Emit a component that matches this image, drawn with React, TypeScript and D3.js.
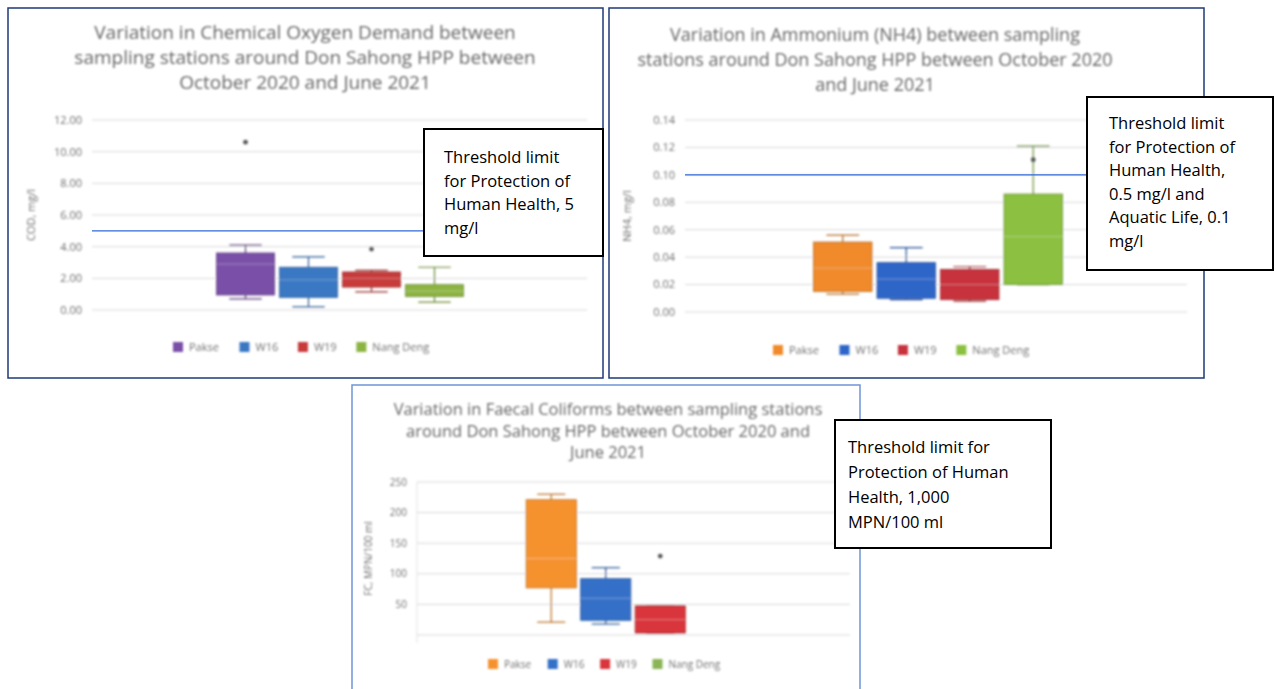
import React from "react";
import * as d3 from "d3";

// Sampling stations shown in every panel
const stations = ["Pakse", "W16", "W19", "Nang Deng"];

// Chemical Oxygen Demand (mg/l) box statistics per station
const codLow = [0.7, 0.2, 1.15, 0.5];
const codQ1 = [0.95, 0.8, 1.45, 0.85];
const codMedian = [2.9, 1.9, 2.0, 1.2];
const codQ3 = [3.6, 2.7, 2.4, 1.6];
const codHigh = [4.1, 3.35, 2.5, 2.7];
const codPoints = [[10.6], [], [3.85], []];
const codTicks = [0, 2, 4, 6, 8, 10, 12];
const codThreshold = 5;

// Ammonium NH4 (mg/l) box statistics per station
const nh4Low = [0.013, 0.009, 0.008, 0.02];
const nh4Q1 = [0.015, 0.01, 0.009, 0.02];
const nh4Median = [0.032, 0.024, 0.02, 0.055];
const nh4Q3 = [0.051, 0.036, 0.031, 0.086];
const nh4High = [0.056, 0.047, 0.033, 0.121];
const nh4Points = [[], [], [], [0.111]];
const nh4Ticks = [0, 0.02, 0.04, 0.06, 0.08, 0.1, 0.12, 0.14];
const nh4Threshold = 0.1;

// Faecal coliforms (MPN/100 ml) box statistics per station (no Nang Deng samples)
const fcLow = [21, 18, 3];
const fcQ1 = [77, 24, 3];
const fcMedian = [125, 60, 25];
const fcQ3 = [221, 92, 48];
const fcHigh = [230, 110, 48];
const fcPoints = [[], [], [129]];
const fcTicks = [0, 50, 100, 150, 200, 250];

const FONT = "'Open Sans', 'Noto Sans', sans-serif";

type Cfg = {
  frame: [number, number, number, number];
  frameColor: string;
  titleLines: string[];
  titleX: number;
  titleY: number;
  titleSize: number;
  titleGap: number;
  plotX: [number, number];
  plotY: [number, number];
  domain: [number, number];
  ticks: number[];
  showZeroLabel: boolean;
  valueAxisLine: boolean;
  fmt: (v: number) => string;
  tickSize: number;
  axisTitle: string;
  axisTitleX: number;
  groupRange: [number, number];
  colors: string[];
  low: number[];
  q1: number[];
  median: number[];
  q3: number[];
  high: number[];
  points: number[][];
  threshold?: number;
  thresholdEnd?: number;
  legendX: number;
  legendY: number;
  legendSize: number;
  legendSq: number;
  legendGap: number;
};

function textWidth(s: string, size: number) {
  let w = 0;
  for (const ch of s) {
    if (ch === "W" || ch === "M") w += 0.9;
    else if (ch === " ") w += 0.27;
    else if (/[0-9]/.test(ch)) w += 0.57;
    else if (/[A-Z]/.test(ch)) w += 0.65;
    else w += 0.53;
  }
  return w * size;
}

function BoxChart({ c }: { c: Cfg }) {
  const y = d3.scaleLinear().domain(c.domain).range([c.plotY[0], c.plotY[1]]);
  const x = d3
    .scaleBand<string>()
    .domain(stations)
    .range(c.groupRange)
    .paddingInner(0.08)
    .paddingOuter(0.04);
  const bw = x.bandwidth();
  const cap = bw * 0.28;

  let lx = c.legendX;
  const legendItems = stations.map((s, i) => {
    const item = { s, x: lx, color: c.colors[i] };
    lx += c.legendSq + 6 + textWidth(s, c.legendSize) + c.legendGap;
    return item;
  });

  const [fx, fy, fw, fh] = c.frame;
  return (
    <g>
      <rect x={fx} y={fy} width={fw} height={fh} fill="#fff" stroke={c.frameColor} strokeWidth={1.5} />
      <g filter="url(#soft)">
        {c.titleLines.map((t, i) => (
          <text
            key={i}
            x={c.titleX}
            y={c.titleY + i * c.titleGap}
            textAnchor="middle"
            fontFamily={FONT}
            fontSize={c.titleSize}
            fill="#666"
          >
            {t}
          </text>
        ))}
        {c.valueAxisLine && (
          <line x1={c.plotX[0]} x2={c.plotX[0]} y1={c.plotY[1]} y2={c.plotY[0] + 8} stroke="#e3e3e3" strokeWidth={1} />
        )}
        {c.ticks.map((t) => (
          <g key={t}>
            <line x1={c.plotX[0]} x2={c.plotX[1]} y1={y(t)} y2={y(t)} stroke="#d9d9d9" strokeWidth={1} />
            {(t !== 0 || c.showZeroLabel) && (
              <text
                x={c.plotX[0] - 10}
                y={y(t)}
                dy="0.35em"
                textAnchor="end"
                fontFamily={FONT}
                fontSize={c.tickSize}
                fill="#707070"
              >
                {c.fmt(t)}
              </text>
            )}
          </g>
        ))}
        <text
          transform={`translate(${c.axisTitleX},${(c.plotY[0] + c.plotY[1]) / 2}) rotate(-90)`}
          textAnchor="middle"
          dy="0.35em"
          fontFamily={FONT}
          fontSize={c.tickSize}
          fill="#707070"
        >
          {c.axisTitle}
        </text>
        {c.q1.map((_, i) => {
          const s = stations[i];
          const x0 = x(s)!;
          const cx = x0 + bw / 2;
          const col = c.colors[i];
          const dark = d3.color(col)!.darker(0.8).toString();
          return (
            <g key={s}>
              <line x1={cx} x2={cx} y1={y(c.q3[i])} y2={y(c.high[i])} stroke={dark} strokeWidth={1.2} />
              <line x1={cx} x2={cx} y1={y(c.q1[i])} y2={y(c.low[i])} stroke={dark} strokeWidth={1.2} />
              <line x1={cx - cap} x2={cx + cap} y1={y(c.high[i])} y2={y(c.high[i])} stroke={dark} strokeWidth={1.2} />
              <line x1={cx - cap} x2={cx + cap} y1={y(c.low[i])} y2={y(c.low[i])} stroke={dark} strokeWidth={1.2} />
              <rect
                x={x0}
                y={y(c.q3[i])}
                width={bw}
                height={Math.max(1, y(c.q1[i]) - y(c.q3[i]))}
                fill={col}
                stroke={dark}
                strokeWidth={0.8}
              />
              <line
                x1={x0}
                x2={x0 + bw}
                y1={y(c.median[i])}
                y2={y(c.median[i])}
                stroke="rgba(255,255,255,0.3)"
                strokeWidth={1}
              />
              {c.points[i].map((p, k) => (
                <circle key={k} cx={cx} cy={y(p)} r={2.4} fill="#555" />
              ))}
            </g>
          );
        })}
        {legendItems.map((it) => (
          <g key={it.s}>
            <rect
              x={it.x}
              y={c.legendY - c.legendSq / 2}
              width={c.legendSq}
              height={c.legendSq}
              fill={it.color}
            />
            <text
              x={it.x + c.legendSq + 6}
              y={c.legendY}
              dy="0.35em"
              fontFamily={FONT}
              fontSize={c.legendSize}
              fill="#707070"
            >
              {it.s}
            </text>
          </g>
        ))}
      </g>
      {c.threshold !== undefined && (
        <line
          x1={c.plotX[0]}
          x2={c.thresholdEnd}
          y1={y(c.threshold)}
          y2={y(c.threshold)}
          stroke="#2f68d8"
          strokeWidth={1.2}
        />
      )}
    </g>
  );
}

function Note({ x, y, w, h, lines, top, gap, pad }: { x: number; y: number; w: number; h: number; lines: string[]; top: number; gap: number; pad: number }) {
  return (
    <g>
      <rect x={x} y={y} width={w} height={h} fill="#fff" stroke="#000" strokeWidth={2} />
      {lines.map((l, i) => (
        <text
          key={i}
          x={x + pad}
          y={y + top + i * gap}
          fontFamily="'Open Sans', sans-serif"
          fontSize={16.5}
          fill="#000"
        >
          {l}
        </text>
      ))}
    </g>
  );
}

const codCfg: Cfg = {
  frame: [8, 8, 595, 370],
  frameColor: "#1f3a7a",
  titleLines: [
    "Variation in Chemical Oxygen Demand between",
    "sampling stations around Don Sahong HPP between",
    "October 2020 and June 2021",
  ],
  titleX: 305,
  titleY: 39,
  titleSize: 19,
  titleGap: 25,
  plotX: [92, 587],
  plotY: [310, 120],
  domain: [0, 12],
  ticks: codTicks,
  showZeroLabel: true,
  valueAxisLine: false,
  fmt: d3.format(".2f"),
  tickSize: 11,
  axisTitle: "COD, mg/l",
  axisTitleX: 31,
  groupRange: [214, 466],
  colors: ["#7a4fa8", "#3a78c4", "#c83a3a", "#8cb443"],
  low: codLow,
  q1: codQ1,
  median: codMedian,
  q3: codQ3,
  high: codHigh,
  points: codPoints,
  threshold: codThreshold,
  thresholdEnd: 424,
  legendX: 173,
  legendY: 347,
  legendSize: 11,
  legendSq: 10,
  legendGap: 20,
};

const nh4Cfg: Cfg = {
  frame: [609, 8, 595, 370],
  frameColor: "#1f3a7a",
  titleLines: [
    "Variation in Ammonium (NH4) between sampling",
    "stations around Don Sahong HPP between October 2020",
    "and June 2021",
  ],
  titleX: 875,
  titleY: 41,
  titleSize: 18,
  titleGap: 25,
  plotX: [685, 1187],
  plotY: [312, 120],
  domain: [0, 0.14],
  ticks: nh4Ticks,
  showZeroLabel: true,
  valueAxisLine: false,
  fmt: d3.format(".2f"),
  tickSize: 11,
  axisTitle: "NH4, mg/l",
  axisTitleX: 627,
  groupRange: [811, 1065],
  colors: ["#f08a2c", "#2f66c8", "#c8323c", "#8bc040"],
  low: nh4Low,
  q1: nh4Q1,
  median: nh4Median,
  q3: nh4Q3,
  high: nh4High,
  points: nh4Points,
  threshold: nh4Threshold,
  thresholdEnd: 1087,
  legendX: 773,
  legendY: 350,
  legendSize: 11,
  legendSq: 10,
  legendGap: 20,
};

const fcCfg: Cfg = {
  frame: [352, 385, 508, 310],
  frameColor: "#6f95d8",
  titleLines: [
    "Variation in Faecal Coliforms between sampling stations",
    "around Don Sahong HPP between October 2020 and",
    "June 2021",
  ],
  titleX: 608,
  titleY: 415,
  titleSize: 16.5,
  titleGap: 21.5,
  plotX: [417, 850],
  plotY: [635, 482],
  domain: [0, 250],
  ticks: fcTicks,
  showZeroLabel: false,
  valueAxisLine: true,
  fmt: d3.format("d"),
  tickSize: 10,
  axisTitle: "FC, MPN/100 ml",
  axisTitleX: 368,
  groupRange: [524, 742],
  colors: ["#f6922e", "#3570c8", "#d9363e", "#8ab454"],
  low: fcLow,
  q1: fcQ1,
  median: fcMedian,
  q3: fcQ3,
  high: fcHigh,
  points: fcPoints,
  legendX: 488,
  legendY: 664,
  legendSize: 10,
  legendSq: 10,
  legendGap: 16,
};

export default function App() {
  return (
    <svg
      width={1277}
      height={689}
      style={{ position: "absolute", left: 0, top: 0, background: "#fff" }}
    >
      <defs>
        <filter id="soft" x="-5%" y="-5%" width="110%" height="110%">
          <feGaussianBlur stdDeviation={0.8} />
        </filter>
      </defs>
      <rect x={0} y={0} width={1277} height={689} fill="#fff" />
      <BoxChart c={codCfg} />
      <BoxChart c={nh4Cfg} />
      <BoxChart c={fcCfg} />
      <Note
        x={424}
        y={129}
        w={179}
        h={127}
        lines={["Threshold limit", "for Protection of", "Human Health, 5", "mg/l"]}
        top={34}
        gap={23.5}
        pad={20}
      />
      <Note
        x={1087}
        y={97}
        w={186}
        h={173}
        lines={[
          "Threshold limit",
          "for Protection of",
          "Human Health,",
          "0.5 mg/l and",
          "Aquatic Life, 0.1",
          "mg/l",
        ]}
        top={32}
        gap={23.6}
        pad={22}
      />
      <Note
        x={835}
        y={420}
        w={216}
        h={128}
        lines={["Threshold limit for", "Protection of Human", "Health, 1,000", "MPN/100 ml"]}
        top={33}
        gap={25}
        pad={13}
      />
    </svg>
  );
}
